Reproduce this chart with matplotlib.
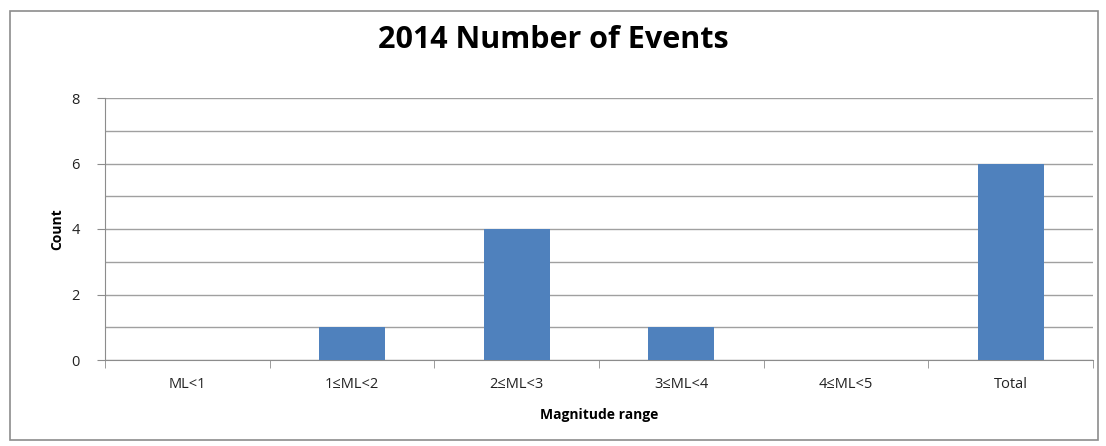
import matplotlib.pyplot as plt
from matplotlib.patches import Rectangle
from matplotlib.ticker import MultipleLocator

categories = ['ML<1', '1≤ML<2', '2≤ML<3', '3≤ML<4', '4≤ML<5', 'Total']
counts = [0, 1, 4, 1, 0, 6]

W, H = 1106, 446
fig = plt.figure(figsize=(W / 100, H / 100), dpi=100)
plt.rcParams['font.family'] = ['Open Sans', 'DejaVu Sans']

# chart-area border
fig.patches.append(Rectangle((10 / W, 1 - 440 / H), 1088 / W, 429 / H,
                             transform=fig.transFigure, fill=False,
                             edgecolor='#8c8c8c', linewidth=1.2))

ax = fig.add_axes([105 / W, 1 - 360 / H, 988 / W, 262 / H])
x = list(range(len(categories)))
ax.bar(x, counts, width=0.4, color='#4f81bd', zorder=3)

ax.set_xlim(-0.5, len(categories) - 0.5)
ax.set_ylim(0, 8)
ax.yaxis.set_major_locator(MultipleLocator(2))
ax.yaxis.set_minor_locator(MultipleLocator(1))
ax.grid(axis='y', which='both', color='#a0a0a0', linewidth=1, zorder=0)

ax.set_xticks(x)
ax.set_xticklabels(categories, fontsize=10.5, color='#222222')
ax.set_xticks([i - 0.5 for i in range(len(categories) + 1)], minor=True)
ax.tick_params(axis='x', which='major', length=0, pad=12)
ax.tick_params(axis='x', which='minor', length=6, color='#8c8c8c', direction='out')
ax.tick_params(axis='y', which='major', length=6, color='#8c8c8c', labelsize=10.5,
               labelcolor='#222222', pad=12)
ax.tick_params(axis='y', which='minor', length=0)

for side in ['top', 'right']:
    ax.spines[side].set_visible(False)
for side in ['left', 'bottom']:
    ax.spines[side].set_color('#8c8c8c')

ax.set_xlabel('Magnitude range', fontsize=10, fontweight='bold', labelpad=12)
ax.set_ylabel('Count', fontsize=10, fontweight='bold', labelpad=5)
fig.text(0.5, 1 - 40 / H, '2014 Number of Events', ha='center', va='center',
         fontsize=22, fontweight='bold')

fig.savefig('out.png', dpi=100)
